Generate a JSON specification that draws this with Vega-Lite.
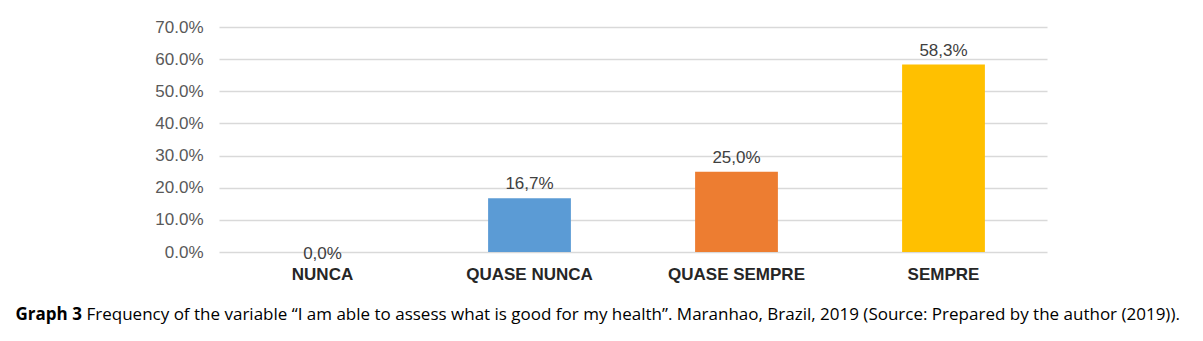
{
  "$schema": "https://vega.github.io/schema/vega-lite/v6.json",
  "width": 828,
  "height": 225,
  "autosize": {"type": "pad"},
  "padding": {"left": 15, "top": 18, "right": 0, "bottom": 12},
  "background": "white",
  "data": {
    "values": [
      {"category": "NUNCA", "value": 0.0, "label": "0,0%"},
      {"category": "QUASE NUNCA", "value": 0.167, "label": "16,7%"},
      {"category": "QUASE SEMPRE", "value": 0.25, "label": "25,0%"},
      {"category": "SEMPRE", "value": 0.583, "label": "58,3%"}
    ]
  },
  "encoding": {
    "x": {
      "field": "category",
      "type": "nominal",
      "sort": null,
      "scale": {"paddingInner": 0.6, "paddingOuter": 0.3},
      "axis": {
        "title": "Graph 3",
        "titleFont": "Open Sans",
        "titleFontSize": 17,
        "titleFontWeight": "bold",
        "titleColor": "#000000",
        "titleAnchor": "start",
        "titleAlign": "left",
        "titleBaseline": "alphabetic",
        "titleX": -204,
        "titleY": 67,
        "labelAngle": 0,
        "labelFont": "Liberation Sans",
        "labelFontSize": 17,
        "labelFontWeight": "bold",
        "labelColor": "#262626",
        "labelPadding": 14,
        "ticks": false,
        "domain": false
      }
    },
    "y": {
      "field": "value",
      "type": "quantitative",
      "scale": {"domain": [0, 0.7], "nice": false},
      "axis": {
        "title": "Frequency of the variable “I am able to assess what is good for my health”. Maranhao, Brazil, 2019 (Source: Prepared by the author (2019)).",
        "titleFont": "Open Sans",
        "titleFontSize": 17,
        "titleFontWeight": "normal",
        "titleColor": "#000000",
        "titleAngle": 0,
        "titleAnchor": "start",
        "titleAlign": "left",
        "titleBaseline": "alphabetic",
        "titleX": -133,
        "titleY": 292,
        "format": ".1%",
        "values": [0, 0.1, 0.2, 0.3, 0.4, 0.5, 0.6, 0.7],
        "labelOverlap": false,
        "labelFont": "Liberation Sans",
        "labelFontSize": 17,
        "labelColor": "#595959",
        "labelPadding": 16,
        "ticks": false,
        "domain": false,
        "grid": true,
        "gridColor": "#d9d9d9",
        "gridWidth": 1.3
      }
    }
  },
  "layer": [
    {
      "mark": {"type": "bar"},
      "encoding": {
        "color": {
          "field": "category",
          "type": "nominal",
          "sort": null,
          "scale": {
            "domain": ["NUNCA", "QUASE NUNCA", "QUASE SEMPRE", "SEMPRE"],
            "range": ["#5B9BD5", "#5B9BD5", "#ED7D31", "#FFC000"]
          },
          "legend": null
        }
      }
    },
    {
      "transform": [{"filter": "datum.value > 0"}],
      "mark": {"type": "text", "baseline": "alphabetic", "dy": -9, "font": "Liberation Sans", "fontSize": 17, "color": "#404040"},
      "encoding": {"text": {"field": "label"}}
    },
    {
      "transform": [{"filter": "datum.value == 0"}],
      "mark": {"type": "text", "baseline": "middle", "dy": 2, "font": "Liberation Sans", "fontSize": 17, "color": "#404040"},
      "encoding": {"text": {"field": "label"}}
    }
  ],
  "config": {"view": {"stroke": null}}
}
